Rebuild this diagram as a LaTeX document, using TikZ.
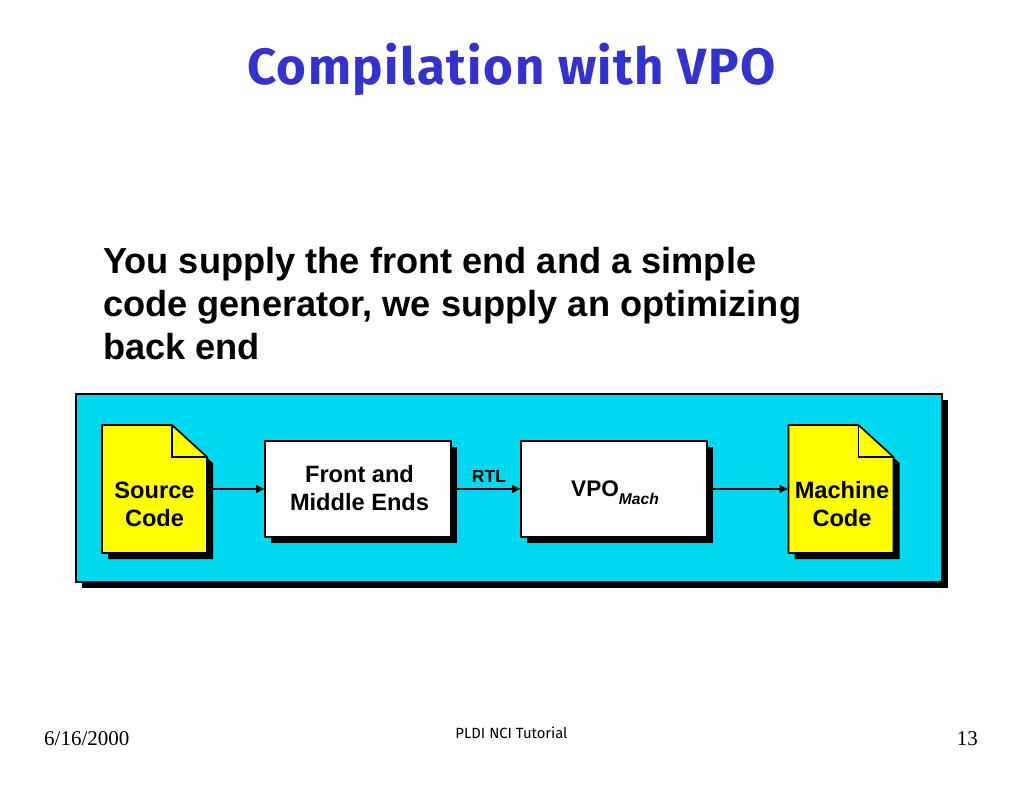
\documentclass[tikz,border=0pt]{standalone}
\usepackage{fontspec}
\setmainfont{Liberation Sans}
\newfontfamily\serfont{Liberation Serif}
\newfontfamily\titlefont[LetterSpace=3]{Fira Sans}
\newfontfamily\smallfont{Fira Sans}
\usetikzlibrary{arrows.meta,backgrounds,calc}
\definecolor{panelcyan}{HTML}{00D8F0}
\definecolor{docyellow}{HTML}{FFFF00}
\definecolor{titleblue}{HTML}{3333CC}
\newcommand{\px}[2]{\fontsize{#1}{#2}\selectfont}
\tikzset{
  outlined/.style={draw=black,line width=1.7pt},
  panelbox/.style={outlined,fill=panelcyan,minimum width=866pt,minimum height=188pt,inner sep=0pt,outer sep=0pt},
  procbox/.style={outlined,fill=white,minimum width=186pt,minimum height=96pt,inner sep=0pt,outer sep=0pt},
  docbox/.style={minimum width=105pt,minimum height=128pt,inner sep=0pt,outer sep=0pt},
  doclabel/.style={align=center,inner sep=0pt,font=\bfseries\px{23.6}{28}},
  flow/.style={draw=black,line width=1.3pt,-{Latex[length=9pt,width=9pt]}},
}
\newcommand{\docshape}[1]{%
  \fill[black] ($(#1.north west)+(6,6)$) -- ($(#1.north east)+(-35+6,6)$) -- ($(#1.north east)+(6,32+6)$) -- ($(#1.south east)+(6,6)$) -- ($(#1.south west)+(6,6)$) -- cycle;
  \draw[outlined,fill=docyellow,line join=miter] (#1.north west) -- ($(#1.north east)+(-35,0)$) -- ($(#1.north east)+(0,32)$) -- (#1.south east) -- (#1.south west) -- cycle;
  \draw[outlined,line join=miter] ($(#1.north east)+(-35,0)$) -- ($(#1.north east)+(-35,32)$) -- ($(#1.north east)+(0,32)$);
}
\begin{document}
\begin{tikzpicture}[x=1pt,y=-1pt]
\useasboundingbox (0,0) rectangle (1024,791);
\node[text=titleblue,font=\titlefont\bfseries\px{51}{56},anchor=base] (title) at (511.5,85) {Compilation with VPO};
\node[anchor=north west,align=left,inner sep=0pt,font=\bfseries\px{36.2}{43}] (body) at (103,247) {You supply the front end and a simple\\code generator, we supply an optimizing\\back end};
\node[docbox] (src) at (154.5,489) {};
\node[docbox] (mach) at (841,489) {};
\node[procbox] (front) at (358,489) {};
\node[procbox] (vpo) at (614,489) {};
\begin{scope}[on background layer]
  \fill[white] (0,0) rectangle (1024,791);
  \fill[black] (82,400) rectangle (948,588);
  \node[panelbox] (panel) at (509,488) {};
  \docshape{src}
  \docshape{mach}
  \fill[black] ($(front.north west)+(6,6)$) rectangle ($(front.south east)+(6,6)$);
  \fill[black] ($(vpo.north west)+(6,6)$) rectangle ($(vpo.south east)+(6,6)$);
\end{scope}
\node[doclabel] (srclabel) at (154.5,504) {Source\\Code};
\node[doclabel] (machlabel) at (842,504) {Machine\\Code};
\node[doclabel] (frontlabel) at (359.5,488) {Front and\\Middle Ends};
\node[anchor=base west,inner sep=0pt,font=\bfseries\px{22.6}{26}] (vpolabel) at (571,496) {VPO\raisebox{-8pt}{\itshape\px{15.6}{18}Mach}};
\draw[flow] ($(src.east)+(6,0)$) -- (front.west);
\draw[flow] ($(front.east)+(6,0)$) -- (vpo.west);
\draw[flow] ($(vpo.east)+(6,0)$) -- (mach.west);
\node[anchor=base,inner sep=0pt,font=\bfseries\px{17.5}{20}] (rtl) at (489,482) {RTL};
\node[anchor=base west,inner sep=0pt,font=\serfont\px{21}{24}] (date) at (44,745) {6/16/2000};
\node[anchor=base,inner sep=0pt,font=\smallfont\px{14.8}{18}] (foot) at (511.5,738) {PLDI NCI Tutorial};
\node[anchor=base east,inner sep=0pt,font=\serfont\px{21}{24}] (page) at (978,745) {13};
\end{tikzpicture}
\end{document}
